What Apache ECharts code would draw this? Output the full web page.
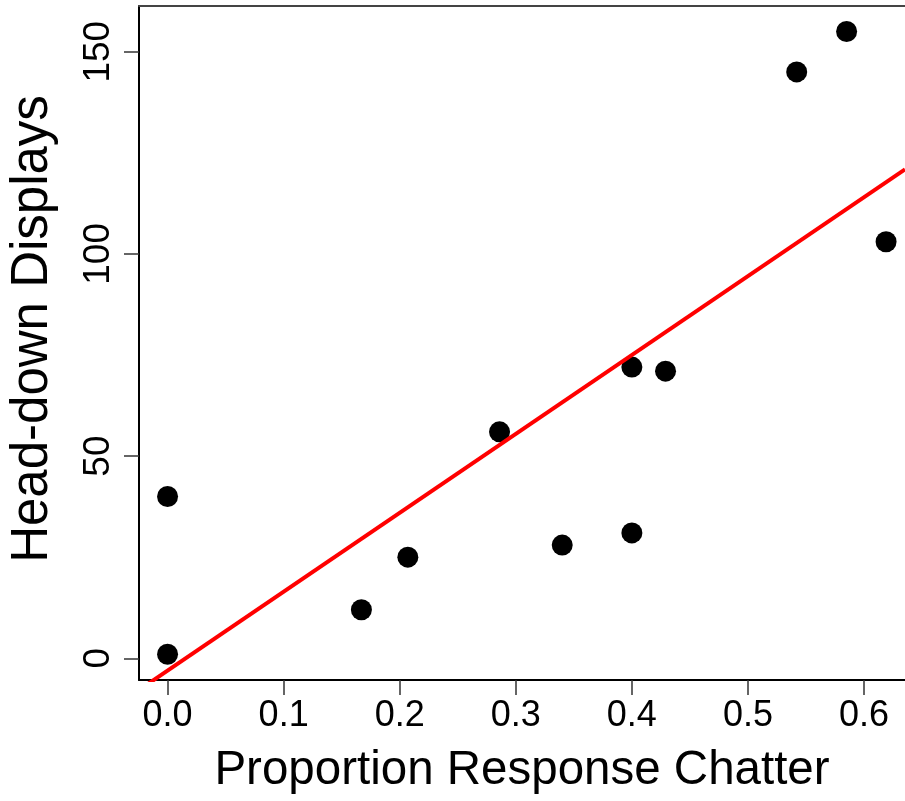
<!DOCTYPE html>
<html>
<head>
<meta charset="utf-8">
<script src="https://cdn.jsdelivr.net/npm/echarts@6/dist/echarts.min.js"></script>
<style>
  html, body { margin: 0; padding: 0; background: #fff; }
  #chart { width: 905px; height: 801px; }
</style>
</head>
<body>
<div id="chart"></div>
<script>
// Proportion of responses that were chatter vs. number of head-down displays
const chatter  = [0, 0, 0.167, 0.207, 0.286, 0.34, 0.4, 0.4, 0.429, 0.542, 0.585, 0.619];
const displays = [1, 40, 12, 25, 56, 28, 31, 72, 71, 145, 155, 103];

const xTicks = [0, 0.1, 0.2, 0.3, 0.4, 0.5, 0.6];
const yTicks = [0, 50, 100, 150];

const xTitle = 'Proportion Response Chatter';
const yTitle = 'Head-down Displays';

// Axis extents (data units)
const xRange = [-0.0246, 0.6353];
const yRange = [-5.37, 161.3];

// Ordinary least-squares fit of displays on chatter
function fitLine(xs, ys) {
  const n = xs.length;
  const mx = xs.reduce((a, b) => a + b, 0) / n;
  const my = ys.reduce((a, b) => a + b, 0) / n;
  let sxy = 0, sxx = 0;
  for (let i = 0; i < n; i++) {
    sxy += (xs[i] - mx) * (ys[i] - my);
    sxx += (xs[i] - mx) * (xs[i] - mx);
  }
  const slope = sxy / sxx;
  return { slope, intercept: my - slope * mx };
}
const fit = fitLine(chatter, displays);
const fitPoints = xRange.map(x => [x, fit.intercept + fit.slope * x]);

const points = chatter.map((x, i) => [x, displays[i]]);

const FONT = 'Liberation Sans, Arial, Helvetica, sans-serif';

const chart = echarts.init(document.getElementById('chart'), null, { renderer: 'canvas' });
chart.setOption({
  backgroundColor: '#ffffff',
  animation: false,
  grid: { left: 139, top: 6, right: 0, bottom: 121, show: false },
  xAxis: [
    {
      type: 'value',
      min: xRange[0], max: xRange[1],
      axisLine: { show: true, onZero: false, lineStyle: { color: '#000', width: 2 } },
      axisTick: { show: true, customValues: xTicks, length: 15, lineStyle: { color: '#333', width: 1.5 } },
      axisLabel: {
        customValues: xTicks, margin: 18, color: '#000', fontSize: 36, fontFamily: FONT,
        formatter: v => v.toFixed(1)
      },
      splitLine: { show: false },
      name: xTitle, nameLocation: 'middle', nameGap: 67,
      nameTextStyle: { color: '#000', fontSize: 47.5, fontFamily: FONT }
    },
    {
      // top edge of the plot box
      type: 'value', position: 'top',
      min: xRange[0], max: xRange[1],
      axisLine: { show: true, onZero: false, lineStyle: { color: '#444', width: 2 } },
      axisTick: { show: false }, axisLabel: { show: false }, splitLine: { show: false }
    }
  ],
  yAxis: {
    type: 'value',
    min: yRange[0], max: yRange[1],
    axisLine: { show: true, onZero: false, lineStyle: { color: '#000', width: 2 } },
    axisTick: { show: true, customValues: yTicks, length: 15, lineStyle: { color: '#333', width: 1.5 } },
    axisLabel: {
      customValues: yTicks, rotate: 90, margin: 22, color: '#000', fontSize: 37, fontFamily: FONT,
      formatter: v => String(v)
    },
    splitLine: { show: false }
  },
  graphic: [
    {
      type: 'text',
      x: 33, y: 329,
      rotation: Math.PI / 2,
      style: {
        text: yTitle,
        font: '51px ' + FONT,
        fill: '#000',
        textAlign: 'center',
        textVerticalAlign: 'middle'
      }
    }
  ],
  series: [
    {
      type: 'scatter',
      data: points,
      symbol: 'circle',
      symbolSize: 21,
      itemStyle: { color: '#000', opacity: 1 },
      z: 2
    },
    {
      type: 'line',
      data: fitPoints,
      symbol: 'none',
      lineStyle: { color: '#ff0000', width: 4 },
      z: 3
    }
  ]
});
</script>
</body>
</html>
